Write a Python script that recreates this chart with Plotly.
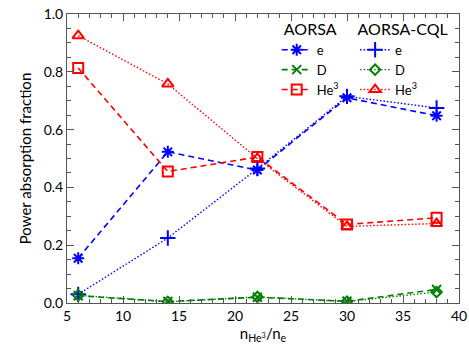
import plotly.graph_objects as go

x_vals = [6, 14, 22, 30, 38]

aorsa_e = [0.155, 0.523, 0.460, 0.710, 0.648]
aorsa_d = [0.025, 0.005, 0.020, 0.006, 0.047]
aorsa_he3 = [0.813, 0.455, 0.505, 0.272, 0.295]

cql_e = [0.030, 0.225, 0.465, 0.715, 0.675]
cql_d = [0.027, 0.004, 0.021, 0.005, 0.038]
cql_he3 = [0.925, 0.758, 0.500, 0.265, 0.275]

x_ticks = [5, 10, 15, 20, 25, 30, 35, 40]
y_ticks = [0.0, 0.2, 0.4, 0.6, 0.8, 1.0]

BLUE = "rgb(0,0,255)"
GREEN = "rgb(0,128,0)"
RED = "rgb(255,0,0)"
FONT = "Lato"

fig = go.Figure()

def add(y, name, color, dash, symbol, legend, size=10, width=1.6):
    fig.add_trace(go.Scatter(
        x=x_vals, y=y, name=name, mode="lines+markers",
        line=dict(color=color, dash=dash, width=width),
        marker=dict(symbol=symbol, size=size, color=color,
                    line=dict(color=color, width=2)),
        legend=legend,
    ))

DASH = "6px,4px"
DOT = "1.5px,2px"
add(aorsa_e, "e", BLUE, DASH, "asterisk-open", "legend", 10)
add(aorsa_d, "D", GREEN, DASH, "x-thin-open", "legend", 9)
add(aorsa_he3, "He<sup>3</sup>", RED, DASH, "square-open", "legend", 10)
add(cql_e, "e", BLUE, DOT, "cross-thin-open", "legend2", 11, 1.4)
add(cql_d, "D", GREEN, DOT, "diamond-open", "legend2", 8, 1.4)
add(cql_he3, "He<sup>3</sup>", RED, DOT, "triangle-up-open", "legend2", 10, 1.4)

axis_common = dict(
    showline=True, linecolor="#555", linewidth=1, mirror="ticks",
    ticks="inside", tickcolor="#555", ticklen=7, showgrid=False, zeroline=False,
    tickfont=dict(family=FONT, size=14, color="black"),
)

fig.update_layout(
    width=469, height=346,
    margin=dict(l=67, r=10, t=14, b=43, autoexpand=False),
    paper_bgcolor="white", plot_bgcolor="white",
    font=dict(family=FONT, size=14, color="black"),
    xaxis=dict(range=[5, 40], tickvals=x_ticks,
               minor=dict(dtick=1, ticks="inside", ticklen=4, tickcolor="#555"),
               title=dict(text="n<sub>He<sup>3</sup></sub>/n<sub>e</sub>",
                          font=dict(family=FONT, size=15), standoff=2),
               **axis_common),
    yaxis=dict(range=[0, 1], tickvals=y_ticks, tickformat=".1f",
               minor=dict(dtick=0.05, ticks="inside", ticklen=4, tickcolor="#555"),
               title=dict(text="Power absorption fraction",
                          font=dict(family=FONT, size=15), standoff=8),
               **axis_common),
    legend=dict(x=0.535, y=1.0, xanchor="left", yanchor="top",
                bgcolor="rgba(0,0,0,0)", tracegroupgap=0, itemwidth=30,
                font=dict(family=FONT, size=13),
                title=dict(text="AORSA", side="top center", font=dict(family=FONT, size=16))),
    legend2=dict(x=0.735, y=1.0, xanchor="left", yanchor="top",
                 bgcolor="rgba(0,0,0,0)", tracegroupgap=0, itemwidth=30,
                 font=dict(family=FONT, size=13),
                 title=dict(text="AORSA-CQL", side="top center", font=dict(family=FONT, size=16))),
)

fig.write_html("out.html")
